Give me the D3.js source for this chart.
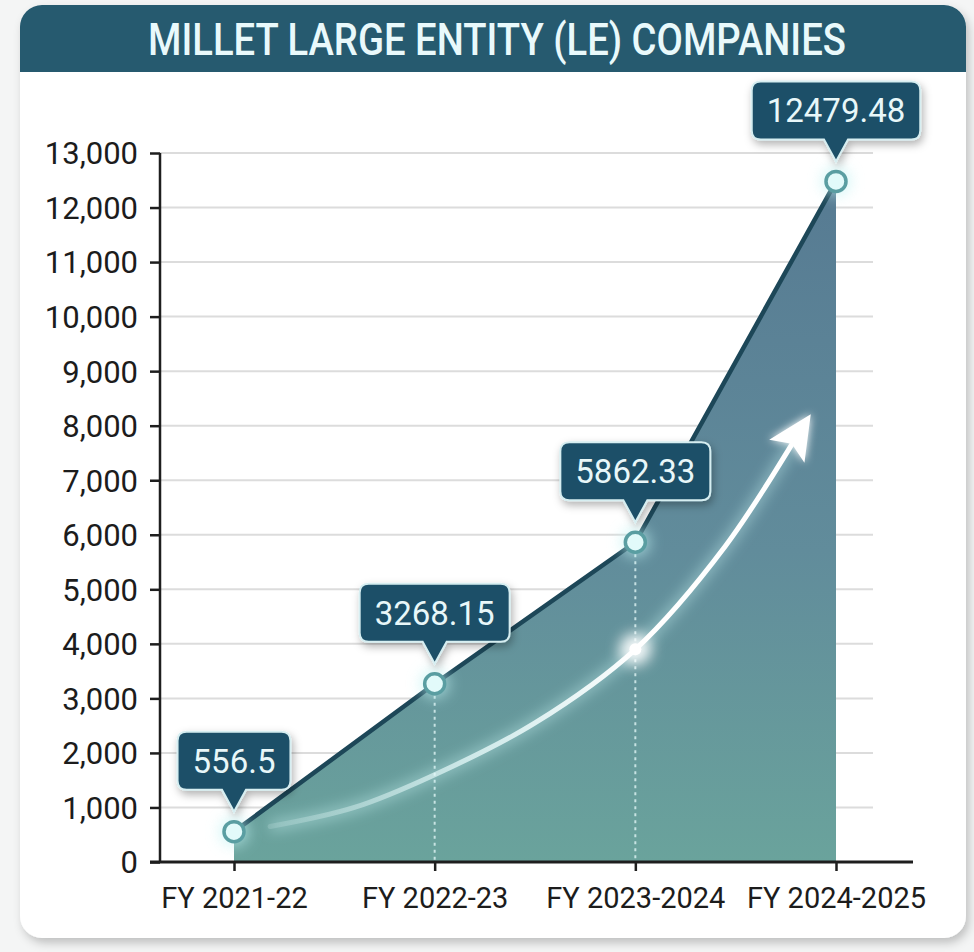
<!DOCTYPE html>
<html>
<head>
<meta charset="utf-8">
<script src="https://cdn.jsdelivr.net/npm/d3@7/dist/d3.min.js"></script>
<style>
  html, body { margin: 0; padding: 0; background: #f4f5f5; }
  svg { display: block; }
</style>
</head>
<body>
<div id="chart"></div>
<script>
// Fiscal years and recorded values
const categories = ["FY 2021-22", "FY 2022-23", "FY 2023-2024", "FY 2024-2025"];
const values = [556.5, 3268.15, 5862.33, 12479.48];
const valueLabels = ["556.5", "3268.15", "5862.33", "12479.48"];
const yTicks = [0, 1000, 2000, 3000, 4000, 5000, 6000, 7000, 8000, 9000, 10000, 11000, 12000, 13000];
const titleText = "MILLET LARGE ENTITY (LE) COMPANIES";

// Decorative growth arrow, expressed as (category index, value) pairs
const trendIndex = [0.18, 0.6, 1.0, 1.5, 2.0, 2.45, 2.82];
const trendValue = [650, 1000, 1600, 2550, 3900, 5800, 7900];

const W = 974, H = 952;
const svg = d3.select("#chart").append("svg").attr("width", W).attr("height", H);
const defs = svg.append("defs");

// Card shadow
const cardShadow = defs.append("filter").attr("id", "cardShadow")
  .attr("x", "-5%").attr("y", "-5%").attr("width", "110%").attr("height", "110%");
cardShadow.append("feDropShadow").attr("dx", 3).attr("dy", 5).attr("stdDeviation", 5)
  .attr("flood-color", "#000").attr("flood-opacity", 0.22);

// Callout shadow
const boxShadow = defs.append("filter").attr("id", "boxShadow")
  .attr("x", "-30%").attr("y", "-30%").attr("width", "160%").attr("height", "170%");
boxShadow.append("feDropShadow").attr("dx", 2).attr("dy", 4).attr("stdDeviation", 4)
  .attr("flood-color", "#000").attr("flood-opacity", 0.3);

// Soft glow
const glow = defs.append("filter").attr("id", "glow")
  .attr("x", "-50%").attr("y", "-50%").attr("width", "200%").attr("height", "200%");
glow.append("feGaussianBlur").attr("stdDeviation", 4).attr("result", "b");
const gm = glow.append("feMerge");
gm.append("feMergeNode").attr("in", "b");
gm.append("feMergeNode").attr("in", "SourceGraphic");

const bigGlow = defs.append("filter").attr("id", "bigGlow")
  .attr("x", "-100%").attr("y", "-100%").attr("width", "300%").attr("height", "300%");
bigGlow.append("feGaussianBlur").attr("stdDeviation", 7);

// Area gradient: slate blue at top to teal at the base
const areaGrad = defs.append("linearGradient").attr("id", "areaGrad")
  .attr("gradientUnits", "userSpaceOnUse").attr("x1", 0).attr("x2", 0).attr("y1", 170).attr("y2", 862);
areaGrad.append("stop").attr("offset", "0%").attr("stop-color", "#567a92");
areaGrad.append("stop").attr("offset", "55%").attr("stop-color", "#618c9b");
areaGrad.append("stop").attr("offset", "100%").attr("stop-color", "#6aa39c");

// Arrow fades in from the left
const arrowGrad = defs.append("linearGradient").attr("id", "arrowGrad")
  .attr("gradientUnits", "userSpaceOnUse").attr("x1", 265).attr("x2", 640).attr("y1", 0).attr("y2", 0);
arrowGrad.append("stop").attr("offset", "0%").attr("stop-color", "#e8fbfb").attr("stop-opacity", 0.15);
arrowGrad.append("stop").attr("offset", "55%").attr("stop-color", "#e8fbfb").attr("stop-opacity", 0.75);
arrowGrad.append("stop").attr("offset", "100%").attr("stop-color", "#ffffff").attr("stop-opacity", 1);

// Card with title bar
const card = { x: 20, y: 5, w: 946, h: 933, r: 22, bar: 67 };
svg.append("rect").attr("x", card.x).attr("y", card.y).attr("width", card.w).attr("height", card.h)
  .attr("rx", card.r).attr("fill", "#ffffff").attr("filter", "url(#cardShadow)");
{
  const p = d3.path(), r = card.r, x0 = card.x, x1 = card.x + card.w, y0 = card.y, y1 = card.y + card.bar;
  p.moveTo(x0, y1);
  p.lineTo(x0, y0 + r);
  p.arcTo(x0, y0, x0 + r, y0, r);
  p.lineTo(x1 - r, y0);
  p.arcTo(x1, y0, x1, y0 + r, r);
  p.lineTo(x1, y1);
  p.closePath();
  svg.append("path").attr("d", p.toString()).attr("fill", "#265a6f");
}
// Title, narrowed horizontally to a condensed look
const title = svg.append("text")
  .attr("text-anchor", "middle")
  .attr("font-family", "Roboto, 'Noto Sans', sans-serif").attr("font-weight", 500)
  .attr("font-size", 45).attr("fill", "#e9f9fb")
  .text(titleText);
{
  const natural = title.node().getComputedTextLength();
  const sx = 698 / natural;
  title.attr("transform", `translate(497,55) scale(${sx},1)`);
}

// Scales
const x = d3.scalePoint().domain(categories).range([234, 836]);
const xi = d3.scaleLinear().domain([0, categories.length - 1]).range([234, 836]);
const y = d3.scaleLinear().domain([0, 13000]).range([862, 153]);
const plotLeft = 160, gridRight = 873, axisRight = 913;

// Gridlines
svg.append("g").selectAll("line").data(yTicks.filter(d => d > 0)).join("line")
  .attr("x1", plotLeft).attr("x2", gridRight)
  .attr("y1", d => y(d)).attr("y2", d => y(d))
  .attr("stroke", "#dcdcdc").attr("stroke-width", 2);

// Area and line
const pts = categories.map((c, i) => ({ c, v: values[i] }));
svg.append("path").datum(pts)
  .attr("d", d3.area().x(d => x(d.c)).y0(y(0)).y1(d => y(d.v)))
  .attr("fill", "url(#areaGrad)");

// Dotted guides under the middle points
svg.append("g").selectAll("line").data(pts.slice(1, 3)).join("line")
  .attr("x1", d => x(d.c)).attr("x2", d => x(d.c))
  .attr("y1", d => y(d.v) + 12).attr("y2", y(0))
  .attr("stroke", "#dff4f4").attr("stroke-opacity", 0.8)
  .attr("stroke-width", 2).attr("stroke-dasharray", "3,4");

svg.append("path").datum(pts)
  .attr("d", d3.line().x(d => x(d.c)).y(d => y(d.v)))
  .attr("fill", "none").attr("stroke", "#1d4758").attr("stroke-width", 4.5)
  .attr("stroke-linejoin", "round");

// Growth arrow
const trendPts = trendIndex.map((t, i) => [xi(t), y(trendValue[i])]);
const trendLine = d3.line().curve(d3.curveCatmullRom.alpha(0.5));
svg.append("path").attr("d", trendLine(trendPts))
  .attr("fill", "none").attr("stroke", "#c8f4f4").attr("stroke-opacity", 0.55)
  .attr("stroke-width", 9).attr("filter", "url(#bigGlow)");
svg.append("path").attr("d", trendLine(trendPts))
  .attr("fill", "none").attr("stroke", "url(#arrowGrad)").attr("stroke-width", 5)
  .attr("stroke-linecap", "round");
{
  const [x1, y1] = trendPts[trendPts.length - 2];
  const [x2, y2] = trendPts[trendPts.length - 1];
  const ang = Math.atan2(y2 - y1, x2 - x1);
  const len = 44, half = 21;
  const tip = [x2 + Math.cos(ang) * 20, y2 + Math.sin(ang) * 20];
  const base = [tip[0] - Math.cos(ang) * len, tip[1] - Math.sin(ang) * len];
  const nx = -Math.sin(ang), ny = Math.cos(ang);
  const head = [tip, [base[0] + nx * half, base[1] + ny * half],
    [base[0] + Math.cos(ang) * 9, base[1] + Math.sin(ang) * 9],
    [base[0] - nx * half, base[1] - ny * half]];
  svg.append("path").attr("d", "M" + head.map(p => p.join(",")).join("L") + "Z")
    .attr("fill", "#ffffff").attr("filter", "url(#glow)");
}
// Bright spot where the arrow crosses the third year
svg.append("circle").attr("cx", xi(2)).attr("cy", y(3900)).attr("r", 16)
  .attr("fill", "#ffffff").attr("opacity", 0.9).attr("filter", "url(#bigGlow)");
svg.append("circle").attr("cx", xi(2)).attr("cy", y(3900)).attr("r", 6)
  .attr("fill", "#ffffff");

// Axes
const yAxis = svg.append("g").attr("transform", `translate(${plotLeft},0)`)
  .call(d3.axisLeft(y).tickValues(yTicks).tickFormat(d3.format(",")).tickSize(10).tickPadding(12));
yAxis.select(".domain").attr("d", `M0,${y(13000)}V${y(0)}`).attr("stroke", "#1e1e1e").attr("stroke-width", 2.5);
yAxis.selectAll(".tick line").attr("stroke", "#1e1e1e").attr("stroke-width", 2.5);
yAxis.selectAll(".tick text").attr("font-family", "Roboto, sans-serif").attr("font-size", 31)
  .attr("fill", "#1c1c1c").attr("dy", "0.35em");

const xAxis = svg.append("g").attr("transform", `translate(0,${y(0)})`)
  .call(d3.axisBottom(x).tickSize(9).tickPadding(14));
xAxis.select(".domain").attr("d", `M150,0H${axisRight}`).attr("stroke", "#1e1e1e").attr("stroke-width", 3);
xAxis.selectAll(".tick line").attr("stroke", "#1e1e1e").attr("stroke-width", 2.5);
xAxis.selectAll(".tick text").attr("font-family", "Roboto, sans-serif").attr("font-size", 29)
  .attr("fill", "#1c1c1c").attr("dy", "0.8em");

// Points
svg.append("g").selectAll("circle.halo").data(pts).join("circle")
  .attr("cx", d => x(d.c)).attr("cy", d => y(d.v)).attr("r", 15)
  .attr("fill", "#bff3f3").attr("opacity", 0.6).attr("filter", "url(#bigGlow)");
svg.append("g").selectAll("circle.pt").data(pts).join("circle")
  .attr("cx", d => x(d.c)).attr("cy", d => y(d.v)).attr("r", 10)
  .attr("fill", "#e2fafa").attr("stroke", "#5a9ea2").attr("stroke-width", 3.5);

// Value callouts
const callouts = svg.append("g");
pts.forEach((d, i) => {
  const px = x(d.c), py = y(d.v);
  const g = callouts.append("g");
  const t = g.append("text").attr("font-family", "Roboto, sans-serif").attr("font-size", 33)
    .attr("fill", "#e8f7f9").attr("text-anchor", "middle").text(valueLabels[i]);
  const tw = t.node().getComputedTextLength();
  const bw = tw + 30, bh = 58, r = 9;
  const tipY = py - 20, bottom = tipY - 22, top = bottom - bh;
  const left = px - bw / 2, right = px + bw / 2, ph = 12;
  const p = d3.path();
  p.moveTo(left + r, top);
  p.lineTo(right - r, top);
  p.quadraticCurveTo(right, top, right, top + r);
  p.lineTo(right, bottom - r);
  p.quadraticCurveTo(right, bottom, right - r, bottom);
  p.lineTo(px + ph, bottom);
  p.lineTo(px, tipY);
  p.lineTo(px - ph, bottom);
  p.lineTo(left + r, bottom);
  p.quadraticCurveTo(left, bottom, left, bottom - r);
  p.lineTo(left, top + r);
  p.quadraticCurveTo(left, top, left + r, top);
  p.closePath();
  g.insert("path", "text").attr("d", p.toString())
    .attr("fill", "#1f5068").attr("stroke", "#d6eef1").attr("stroke-width", 2)
    .attr("filter", "url(#boxShadow)");
  t.attr("x", px).attr("y", top + bh / 2 + 12);
});
</script>
</body>
</html>
